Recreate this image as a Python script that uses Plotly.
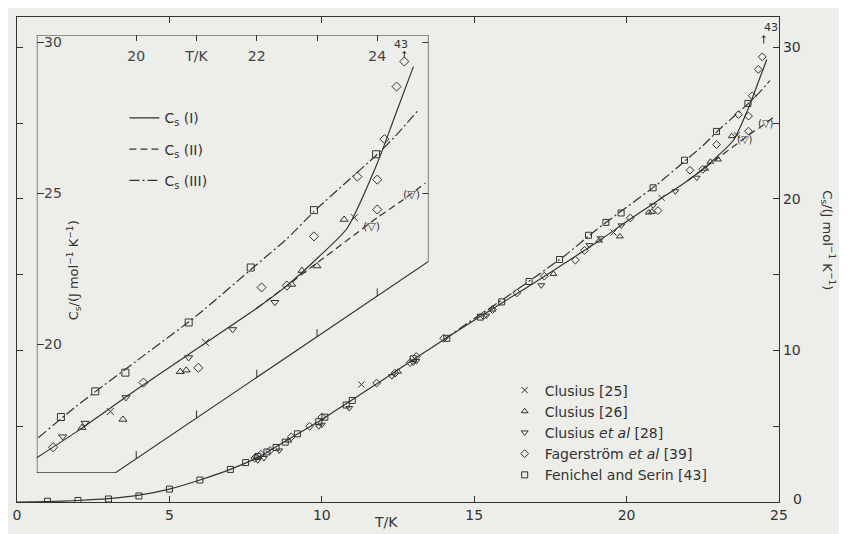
import numpy as np
import plotly.graph_objects as go

# ---------------- data ----------------
# smoothed curves Cs(I) solid, Cs(II) dashed, Cs(III) dash-dot
T_curve = [0, 1, 2, 3, 4, 5, 6, 7, 8, 9, 10, 11, 12, 13, 14, 15, 16, 17, 18, 19,
           20, 21, 22, 22.5, 23, 23.5, 24, 24.3, 24.6]
cs_I = [0, 0.03, 0.1, 0.22, 0.45, 0.85, 1.45, 2.15, 3.05, 4.25, 5.45, 6.75, 8.05,
        9.4, 10.7, 12.0, 13.25, 14.5, 15.8, 17.1, 18.5, 19.85, 21.2, 21.95, 22.85,
        23.85, 26.0, 27.6, 29.2]
T_II = [22, 22.5, 23, 23.5, 24, 24.4, 24.8]
cs_II = [21.2, 21.95, 22.7, 23.45, 24.2, 24.75, 25.35]
T_III = [14, 15, 16, 17, 18, 19, 20, 21, 22, 22.5, 23, 23.5, 24, 24.3, 24.7]
cs_III = [10.7, 12.1, 13.45, 14.85, 16.3, 17.95, 19.45, 20.95, 22.65, 23.5, 24.5,
          25.4, 26.3, 26.9, 27.8]

# experimental data sets
T_c25 = [11.3, 19.57, 21.15, 23.62]
cs_c25 = [7.75, 17.78, 20.07, 24.2]

T_c26 = [7.85, 8.9, 12.5, 15.6, 17.6, 19.1, 19.78, 20.73, 20.83, 22.58, 22.75, 23.0, 23.45]
cs_c26 = [3.0, 4.05, 8.6, 12.7, 15.05, 17.25, 17.52, 19.1, 19.15, 21.99, 22.45, 22.6, 24.14]

T_c28 = [7.9, 8.1, 8.6, 9.9, 10.0, 10.9, 12.3, 13.0, 13.1, 15.4, 17.2, 18.78, 19.15,
         19.83, 20.87, 21.6, 22.3]
cs_c28 = [2.75, 2.9, 3.4, 5.0, 5.1, 6.2, 8.3, 9.2, 9.3, 12.3, 14.3, 16.95, 17.4,
          18.25, 19.57, 20.5, 21.4]

T_f39 = [7.8, 8.0, 8.3, 9.0, 9.6, 10.0, 11.8, 12.4, 12.9, 13.1, 14.0, 15.3, 15.6,
         16.4, 17.3, 18.32, 18.62, 20.12, 21.03, 22.08, 22.5, 22.95, 23.67, 24.0,
         24.0, 24.12, 24.32, 24.45]
cs_f39 = [2.9, 3.15, 3.4, 4.3, 5.0, 5.6, 7.85, 8.5, 9.2, 9.6, 10.8, 12.3, 12.7,
          13.8, 14.9, 15.96, 16.6, 18.74, 19.23, 21.89, 21.95, 23.58, 25.56, 24.47,
          25.46, 26.8, 28.54, 29.37]

T_fs43 = [1.0, 2.0, 3.0, 4.0, 5.0, 6.0, 7.0, 7.5, 7.9, 8.2, 8.5, 8.8, 9.2, 9.9,
          10.1, 10.8, 11.0, 13.0, 14.1, 15.2, 15.9, 16.8, 17.8, 18.75, 19.32, 19.82,
          20.87, 21.9, 22.95, 23.98]
cs_fs43 = [0.05, 0.1, 0.2, 0.4, 0.85, 1.45, 2.15, 2.6, 3.0, 3.3, 3.6, 3.95, 4.5,
           5.3, 5.6, 6.4, 6.7, 9.45, 10.8, 12.2, 13.2, 14.55, 16.0, 17.6, 18.45,
           19.07, 20.73, 22.55, 24.45, 26.3]

# bracketed Clusius et al points
T_brk = [23.9, 24.57]
cs_brk = [23.9, 24.97]

# off-scale Fenichel and Serin point marker
T_off = 24.45
cs_off = 29.37

# axes
main_T = [0, 25]
main_cs = [0, 32]
main_ticks_T = [0, 5, 10, 15, 20, 25]
main_ticks_cs = [0, 5, 10, 15, 20, 25, 30]
main_labels_cs = ['', '', '10', '', '20', '', '30']
inset_T = [18.35, 24.85]
inset_cs = [15.75, 30.25]
inset_ticks_T = [20, 21, 22, 23, 24]
inset_labels_T = ['20', 'T/K', '22', '', '24']
inset_ticks_cs = [20, 25, 30]
inset_corner_T = 19.65     # where the cut edge leaves the bottom
inset_corner_cs = 22.75    # where the cut edge meets the right side

ink = '#333333'
font_family = 'DejaVu Sans'

series = [
    ("Clusius [25]", "x-thin-open", T_c25, cs_c25),
    ("Clusius [26]", "triangle-up-open", T_c26, cs_c26),
    ("Clusius <i>et al</i> [28]", "triangle-down-open", T_c28, cs_c28),
    ("Fagerström <i>et al</i> [39]", "diamond-open", T_f39, cs_f39),
    ("Fenichel and Serin [43]", "square-open", T_fs43, cs_fs43),
]

curves = [
    ("C<sub>s</sub> (I)", T_curve, cs_I, 'solid'),
    ("C<sub>s</sub> (II)", T_II, cs_II, '7px,4px'),
    ("C<sub>s</sub> (III)", T_III, cs_III, '10px,3px,2px,3px'),
]

fig = go.Figure()

for name, tx, cy, dash in curves:
    fig.add_trace(go.Scatter(x=tx, y=cy, mode='lines', showlegend=False,
                             line=dict(color=ink, width=1.2, dash=dash, shape='spline', smoothing=0.6),
                             xaxis='x', yaxis='y', hoverinfo='skip'))
    fig.add_trace(go.Scatter(x=tx, y=cy, mode='lines', name=name, legend='legend2',
                             legendgroup=name,
                             line=dict(color=ink, width=1.2, dash=dash, shape='spline', smoothing=0.6),
                             xaxis='x2', yaxis='y2', hoverinfo='skip'))

for name, sym, tx, cy in series:
    mk = dict(symbol=sym, size=6, color=ink, line=dict(width=1, color=ink))
    fig.add_trace(go.Scatter(x=tx, y=cy, mode='markers', name=name, legend='legend',
                             marker=mk, xaxis='x', yaxis='y'))
    ta = np.array(tx)
    ca = np.array(cy)
    m = (ta >= inset_T[0]) & (ta <= inset_T[1]) & (ca >= inset_cs[0]) & (ca <= inset_cs[1])
    mk2 = dict(symbol=sym, size=7, color=ink, line=dict(width=1, color=ink))
    fig.add_trace(go.Scatter(x=ta[m], y=ca[m], mode='markers', showlegend=False,
                             marker=mk2, xaxis='x2', yaxis='y2'))

# inset frame (rectangle with the lower-right corner cut away)
x_lo, x_hi = inset_T
y_lo, y_hi = inset_cs
shapes = [dict(type='path', xref='x2', yref='y2',
               path=(f"M {x_lo},{y_hi} L {x_lo},{y_lo} L {inset_corner_T},{y_lo} "
                     f"L {x_hi},{inset_corner_cs} L {x_hi},{y_hi} Z"),
               line=dict(color=ink, width=1.2))]
slope = (inset_corner_cs - y_lo) / (x_hi - inset_corner_T)
for t in inset_ticks_T:
    yb = y_lo + (t - inset_corner_T) * slope
    shapes.append(dict(type='line', xref='x2', yref='y2', x0=t, x1=t, y0=yb, y1=yb + 0.25,
                       line=dict(color=ink, width=1)))
for c in inset_ticks_cs[1:]:
    shapes.append(dict(type='line', xref='x2', yref='y2', x0=x_hi - 0.1, x1=x_hi, y0=c, y1=c,
                       line=dict(color=ink, width=1)))

ytitle = "C<sub>s</sub>/(J mol<sup>−1</sup> K<sup>−1</sup>)"
annotations = [
    dict(text="T/K", x=12.1, xref='x', xanchor='center', y=-0.062, yref='paper',
         showarrow=False, font=dict(size=14)),
    dict(text="0", x=1, xref='paper', xshift=18, xanchor='center', y=0, yref='y', yshift=3,
         showarrow=False, font=dict(size=14)),
    dict(text=ytitle, textangle=90, x=1.064, xref='paper', xanchor='center', y=0.54,
         yref='paper', showarrow=False, font=dict(size=13)),
    dict(text=ytitle, textangle=-90, x=0.075, xref='paper', xanchor='center', y=0.478,
         yref='paper', showarrow=False, font=dict(size=13)),
    # off-scale point: arrows and reference number
    dict(text="43", x=T_off + 0.3, xref='x', y=31.3, yref='y', showarrow=False,
         font=dict(size=11)),
    dict(text="", x=T_off + 0.05, xref='x', y=30.8, yref='y', showarrow=True, ax=0, ay=10,
         arrowhead=1, arrowsize=0.8, arrowwidth=1, arrowcolor=ink),
    dict(text="43", x=T_off - 0.05, xref='x2', y=29.92, yref='y2', showarrow=False,
         font=dict(size=11)),
    dict(text="", x=T_off, xref='x2', y=29.72, yref='y2', showarrow=True, ax=0, ay=8,
         arrowhead=1, arrowsize=0.8, arrowwidth=1, arrowcolor=ink),
]
# bracketed (less certain) Clusius et al points, in both panels
for ax, ay, sz in (('x', 'y', 10), ('x2', 'y2', 11)):
    for t, c in zip(T_brk, cs_brk):
        annotations.append(dict(text="(▽)", x=t, xref=ax, y=c, yref=ay, showarrow=False,
                                xanchor='center', font=dict(size=sz, color=ink)))

# the page body adds an 8 px offset; margins compensate so the plot lands in place
fig.update_layout(
    width=847, height=534,
    margin=dict(l=5, r=76, t=9, b=40),
    paper_bgcolor='#ededea', plot_bgcolor='rgba(0,0,0,0)',
    font=dict(family=font_family, size=14, color=ink),
    xaxis=dict(domain=[0, 1], range=main_T, showline=True, linecolor=ink, linewidth=1.2,
               mirror='ticks', ticks='inside', ticklen=6, tickcolor=ink,
               tickvals=main_ticks_T, showgrid=False, zeroline=False),
    yaxis=dict(domain=[0, 1], range=main_cs, side='right', showline=True, linecolor=ink,
               linewidth=1.2, mirror='ticks', ticks='inside', ticklen=6, tickcolor=ink,
               tickvals=main_ticks_cs, ticktext=main_labels_cs,
               showgrid=False, zeroline=False),
    xaxis2=dict(domain=[0.026, 0.540], anchor='y2', side='top', range=inset_T,
                showline=False, ticks='inside', ticklen=6, tickcolor=ink,
                tickvals=inset_ticks_T, ticktext=inset_labels_T,
                ticklabelposition='inside', ticklabeloverflow='allow', ticklabelstandoff=10,
                showgrid=False, zeroline=False),
    yaxis2=dict(domain=[0.060, 0.963], anchor='x2', range=inset_cs, showline=False,
                ticks='inside', ticklen=7, tickcolor=ink, tickvals=inset_ticks_cs,
                ticklabelposition='inside', ticklabeloverflow='allow',
                showgrid=False, zeroline=False),
    legend=dict(x=0.640, y=0.263, xanchor='left', yanchor='top', bgcolor='rgba(0,0,0,0)',
                font=dict(size=14), tracegroupgap=0),
    legend2=dict(x=0.141, y=0.824, xanchor='left', yanchor='top', bgcolor='rgba(0,0,0,0)',
                 font=dict(size=14), tracegroupgap=10),
    shapes=shapes,
    annotations=annotations,
)

fig.write_html("out.html")
